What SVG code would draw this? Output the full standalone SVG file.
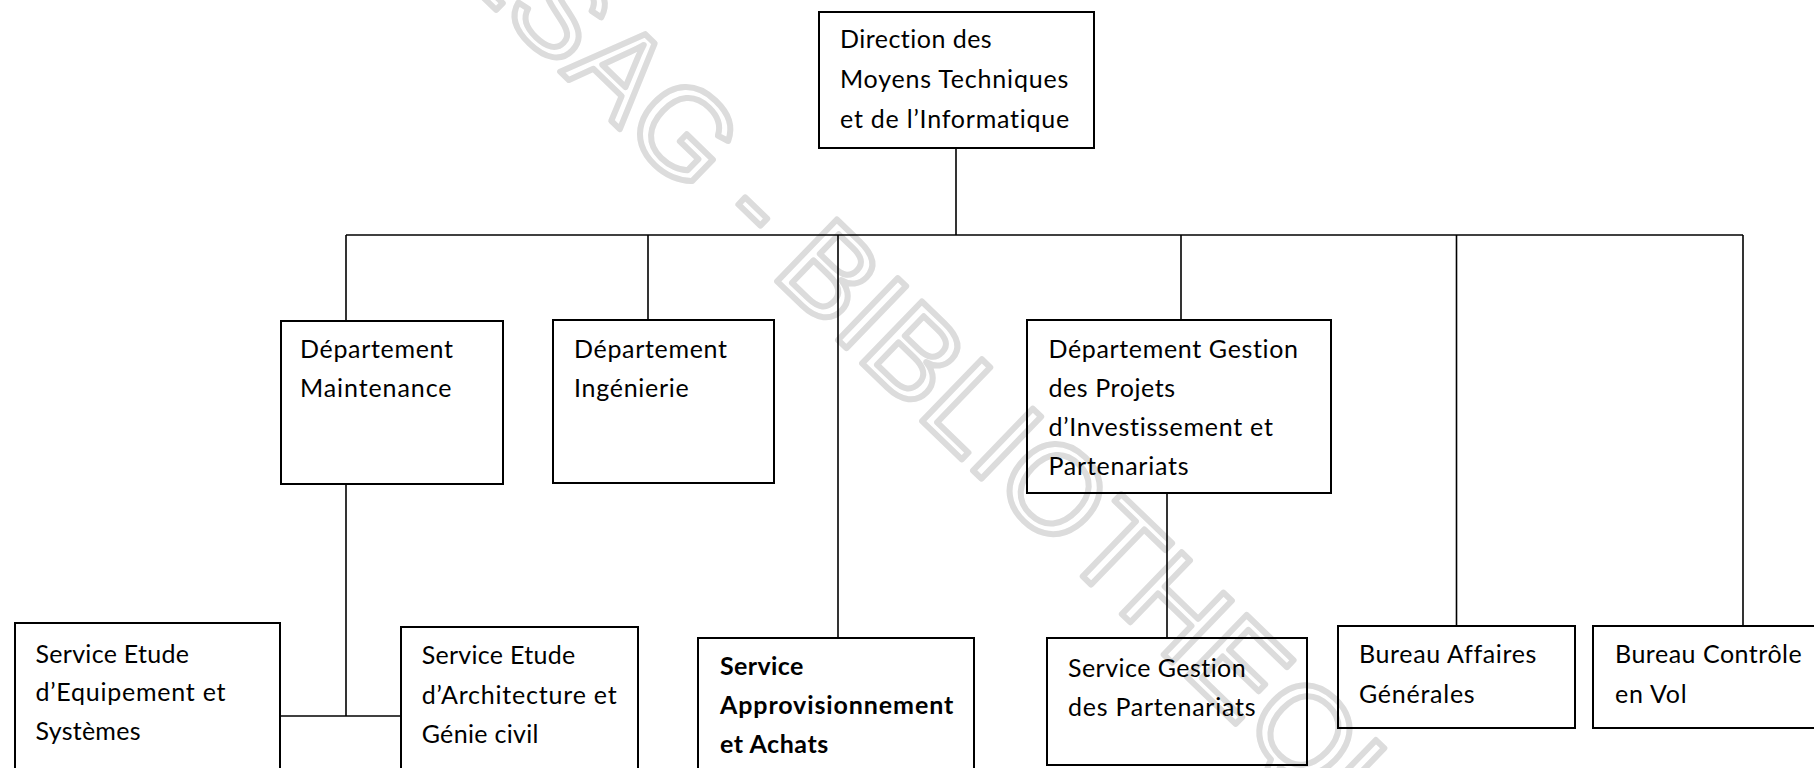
<svg xmlns="http://www.w3.org/2000/svg" width="1814" height="768" viewBox="0 0 1814 768">
  <style>
    .box { fill: none; stroke: #000; stroke-width: 2; }
    .link { fill: none; stroke: #000; stroke-width: 1.6; }
    .lbl { font-family: Lato, "Liberation Sans", sans-serif; font-size: 25px; fill: #000; font-variant-ligatures: none; }
    .bold { font-weight: bold; }
    .wm { font-family: "Liberation Sans", Arial, sans-serif; font-size: 125px; fill: none; stroke: #dcdcdc; stroke-width: 6; stroke-linejoin: round; }
  </style>
  <rect width="1814" height="768" fill="#fff"/>

  <!-- library stamp across the sheet -->
  <text class="wm" transform="translate(375,-107) rotate(44)">CESAG - BIBLIOTHEQUE</text>

  <!-- connectors -->
  <g id="connectors">
    <path class="link" d="M956,148 V235"/>
    <path class="link" d="M346,235 H1743"/>
    <path class="link" d="M346,235 V321"/>
    <path class="link" d="M648,235 V320"/>
    <path class="link" d="M838,235 V638"/>
    <path class="link" d="M1181,235 V320"/>
    <path class="link" d="M1456.5,235 V626"/>
    <path class="link" d="M1743,235 V626"/>
    <path class="link" d="M346,484 V716"/>
    <path class="link" d="M280,716 H401"/>
    <path class="link" d="M1167,493 V638"/>
  </g>

  <g id="direction">
    <rect class="box" x="819" y="12" width="275" height="136"/>
    <text class="lbl" x="840" y="48" textLength="151.7">Direction des</text>
    <text class="lbl" x="840" y="88" textLength="228.3">Moyens Techniques</text>
    <text class="lbl" x="840" y="128" textLength="229.3">et de l’Informatique</text>
  </g>

  <g id="dept-maintenance">
    <rect class="box" x="281" y="321" width="222" height="163"/>
    <text class="lbl" x="300" y="358" textLength="153">Département</text>
    <text class="lbl" x="300" y="397" textLength="151.5">Maintenance</text>
  </g>

  <g id="dept-ingenierie">
    <rect class="box" x="553" y="320" width="221" height="163"/>
    <text class="lbl" x="574" y="358" textLength="153">Département</text>
    <text class="lbl" x="574" y="397" textLength="114.8">Ingénierie</text>
  </g>

  <g id="dept-gestion-projets">
    <rect class="box" x="1027" y="320" width="304" height="173"/>
    <text class="lbl" x="1048.5" y="358" textLength="249.5">Département Gestion</text>
    <text class="lbl" x="1048.5" y="397" textLength="126.5">des Projets</text>
    <text class="lbl" x="1048.5" y="436" textLength="224.4">d’Investissement et</text>
    <text class="lbl" x="1048.5" y="475" textLength="140">Partenariats</text>
  </g>

  <g id="service-equipement">
    <rect class="box" x="15" y="623" width="265" height="170"/>
    <text class="lbl" x="35.5" y="662.5" textLength="153.5">Service Etude</text>
    <text class="lbl" x="35.5" y="701" textLength="190">d’Equipement et</text>
    <text class="lbl" x="35.5" y="740" textLength="105">Systèmes</text>
  </g>

  <g id="service-architecture">
    <rect class="box" x="401" y="627" width="237" height="170"/>
    <text class="lbl" x="421.7" y="664" textLength="153.5">Service Etude</text>
    <text class="lbl" x="421.7" y="704" textLength="195">d’Architecture et</text>
    <text class="lbl" x="421.7" y="743" textLength="116.7">Génie civil</text>
  </g>

  <g id="service-approvisionnement">
    <rect class="box" x="698" y="638" width="276" height="160"/>
    <text class="lbl bold" x="720" y="675" textLength="83.3">Service</text>
    <text class="lbl bold" x="720" y="714" textLength="233.3">Approvisionnement</text>
    <text class="lbl bold" x="720" y="753" textLength="108.3">et Achats</text>
  </g>

  <g id="service-partenariats">
    <rect class="box" x="1047" y="638" width="260" height="127"/>
    <text class="lbl" x="1068" y="677" textLength="177.7">Service Gestion</text>
    <text class="lbl" x="1068" y="716" textLength="187.5">des Partenariats</text>
  </g>

  <g id="bureau-affaires">
    <rect class="box" x="1338" y="626" width="237" height="102"/>
    <text class="lbl" x="1359" y="662.5" textLength="177.3">Bureau Affaires</text>
    <text class="lbl" x="1359" y="703" textLength="115.7">Générales</text>
  </g>

  <g id="bureau-controle">
    <rect class="box" x="1593" y="626" width="240" height="102"/>
    <text class="lbl" x="1615" y="663" textLength="186.7">Bureau Contrôle</text>
    <text class="lbl" x="1615" y="703" textLength="71.7">en Vol</text>
  </g>
</svg>
